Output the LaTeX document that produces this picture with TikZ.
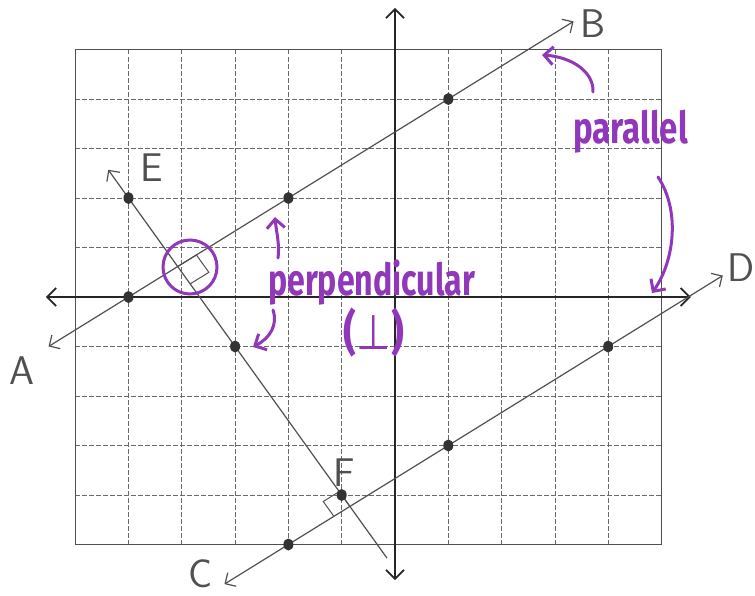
\documentclass[tikz,border=0pt]{standalone}
\usepackage{fontspec}
\newfontfamily\markerfont{Fira Sans}
\newfontfamily\symfont{DejaVu Sans}
\usetikzlibrary{arrows.meta,calc,intersections,shapes.geometric}
\definecolor{mk}{RGB}{145,55,185}
\definecolor{pencil}{RGB}{80,80,80}
\begin{document}
\begin{tikzpicture}[x=53.3pt,y=49.5pt,
  gridline/.style={pencil!85, line width=0.8pt, dash pattern=on 5pt off 2pt},
  border/.style={pencil, line width=1.3pt},
  axis/.style={black!85, line width=2.2pt, {Straight Barb[length=9pt,width=18pt,line width=1.8pt]}-{Straight Barb[length=9pt,width=18pt,line width=1.8pt]}},
  geoline/.style={pencil, line width=1.2pt, {Straight Barb[length=8pt,width=16pt]}-{Straight Barb[length=8pt,width=16pt]}},
  geohalf/.style={pencil, line width=1.2pt, {Straight Barb[length=8pt,width=16pt]}-},
  dot/.style={ellipse, fill=black!80, inner sep=0pt, minimum width=10pt, minimum height=12pt},
  letter/.style={text=pencil, font=\fontsize{40}{40}\selectfont\sffamily, inner sep=0pt},
  mkline/.style={mk, line width=3pt, line cap=round, -{Straight Barb[length=9pt,width=18pt,line width=3pt]}},
  mktext/.style={text=mk, font=\fontsize{44}{44}\selectfont\markerfont\bfseries, inner sep=0pt},
  rightangle/.style={pencil, line width=1pt}
]
\useasboundingbox (-7.4109,-6.0202) rectangle (6.7542,6);
% grid
\foreach \i in {-5,-4,-3,-2,-1,1,2,3,4} \draw[gridline] (\i,-5) -- (\i,5);
\foreach \j in {-4,-3,-2,-1,1,2,3,4} \draw[gridline] (-6,\j) -- (5,\j);
\draw[border] (-6,-5) rectangle (5,5);
% axes
\coordinate (xl) at (-6.55,0);
\coordinate (xr) at (5.55,0);
\coordinate (yt) at (0,5.84);
\coordinate (yb) at (0,-5.72);
\draw[axis] (xl) -- (xr);
\draw[axis] (yb) -- (yt);
% lines
\coordinate (Aend) at (-6.5,-1);
\coordinate (Bend) at (3.35,5.567);
\coordinate (Cend) at (-3.2,-5.8);
\coordinate (Dend) at (6.15,0.433);
\coordinate (Eend) at (-5.38,2.57);
\coordinate (Fend) at (-0.15,-5.275);
\draw[geoline, name path=ab] (Aend) -- (Bend);
\draw[geoline, name path=cd] (Cend) -- (Dend);
\draw[geohalf, name path=ef] (Eend) -- (Fend);
\path[name intersections={of=ab and ef, by=P1}];
\path[name intersections={of=cd and ef, by=P2}];
\draw[rightangle] (P1) -- ++(0.351,0.234) -- ++(0.234,-0.351) -- ++(-0.351,-0.234);
\draw[rightangle] (P2) -- ++(-0.2,0.3) -- ++(-0.3,-0.2) -- ++(0.2,-0.3);
% dots
\node[dot] (d1) at (-5,0) {};
\node[dot] (d2) at (-2,2) {};
\node[dot] (d3) at (1,4) {};
\node[dot] (d4) at (-2,-5) {};
\node[dot] (d5) at (1,-3) {};
\node[dot] (d6) at (4,-1) {};
\node[dot] (d7) at (-5,2) {};
\node[dot] (d8) at (-3,-1) {};
\node[dot] (d9) at (-1,-4) {};
% pixel scope
\begin{scope}[shift={(-7.4109,6)}, x=1pt, y=-1pt]
\node[letter] (lA) at (22,371) {A};
\node[letter] (lB) at (593,24) {B};
\node[letter] (lC) at (201,574) {C};
\node[letter] (lD) at (741,268) {D};
\node[letter] (lE) at (152,168) {E};
\node[letter] (lF) at (344,473) {F};
% purple
\node[mktext, anchor=base west] (perp) at (268,295) {\scalebox{0.73}[1]{perpendicular}};
\node[mktext] (perpsym) at (374,333) {\scalebox{0.9}[1.1]{(\symfont\mdseries ⊥\markerfont\bfseries)}};
\node[mktext, anchor=base west] (par) at (573,143) {\scalebox{0.75}[1]{parallel}};
\coordinate (c1) at (190,267);
\draw[mk, line width=3pt] (c1) circle[radius=27];
\coordinate (p1s) at (593,92);
\coordinate (p1e) at (542,55);
\draw[mkline] (p1s) .. controls (594,72) and (572,57) .. (p1e);
\coordinate (p2s) at (658,177);
\coordinate (p2e) at (652,293);
\draw[mkline] (p2s) .. controls (680,210) and (675,260) .. (p2e);
\coordinate (q1s) at (278,258);
\coordinate (q1e) at (275,217);
\draw[mkline] (q1s) .. controls (280,245) and (276,230) .. (q1e);
\coordinate (q2s) at (273,310);
\coordinate (q2e) at (253,347);
\draw[mkline] (q2s) .. controls (278,325) and (270,338) .. (q2e);
\end{scope}
\end{tikzpicture}
\end{document}
